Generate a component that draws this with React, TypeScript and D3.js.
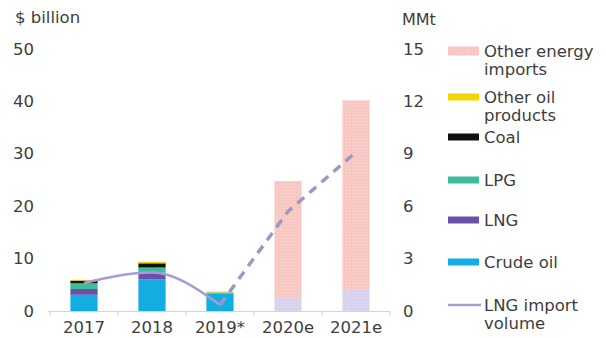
import React from "react";
import * as d3 from "d3";

const categories = ["2017", "2018", "2019*", "2020e", "2021e"];
const crudeOil = [3.1, 6.0, 3.3, 0, 0];
const lng = [1.1, 1.3, 0, 2.5, 4.0];
const lpg = [1.1, 1.0, 0.25, 0, 0];
const coal = [0.5, 0.8, 0, 0, 0];
const otherOil = [0.15, 0.3, 0.15, 0, 0];
const otherEnergy = [0, 0, 0, 22.3, 36.2];
const lngVolume = [1.6, 2.2, 0.35, 5.7, 9.1];
const leftTicks = [0, 10, 20, 30, 40, 50];
const rightTicks = [0, 3, 6, 9, 12, 15];

const W = 606;
const H = 338;
const FONT = "'DejaVu Sans', Verdana, sans-serif";
const TXT = "#3d3d3d";

export default function App() {
  const x = d3.scaleBand<string>().domain(categories).range([50, 390]).paddingInner(0.6).paddingOuter(0.3);
  const yL = d3.scaleLinear().domain([0, 50]).range([311, 49]);
  const yR = d3.scaleLinear().domain([0, 15]).range([311, 49]);

  const seriesDefs = [
    { key: "crude", values: crudeOil, fill: "#14ade2" },
    { key: "lng", values: lng, fill: "#6b50aa" },
    { key: "lpg", values: lpg, fill: "#3dbb9b" },
    { key: "coal", values: coal, fill: "#111111" },
    { key: "otheroil", values: otherOil, fill: "#f4d600" },
    { key: "otherenergy", values: otherEnergy, fill: "url(#pinkDots)" },
  ];
  const rows = categories.map((c, i) => {
    const r: any = { cat: c };
    seriesDefs.forEach((s) => (r[s.key] = s.values[i]));
    return r;
  });
  const stack = d3.stack<any>().keys(seriesDefs.map((s) => s.key));
  const stacked = stack(rows);

  const bw = x.bandwidth();
  const pts = categories.map((c, i) => [x(c)! + bw / 2, yR(lngVolume[i])] as [number, number]);
  const solid = d3.line().curve(d3.curveMonotoneX)(pts.slice(0, 3))!;
  const dashed = d3.line()(pts.slice(2))!;

  const legend = [
    { lines: ["Other energy", "imports"], fill: "url(#pinkDots)", y: 51, type: "rect", h: 9 },
    { lines: ["Other oil", "products"], fill: "#f4d600", y: 97, type: "rect", h: 7 },
    { lines: ["Coal"], fill: "#111111", y: 137, type: "rect", h: 7 },
    { lines: ["LPG"], fill: "#3dbb9b", y: 180, type: "rect", h: 7 },
    { lines: ["LNG"], fill: "#6b50aa", y: 220, type: "rect", h: 7 },
    { lines: ["Crude oil"], fill: "#14ade2", y: 262, type: "rect", h: 7 },
    { lines: ["LNG import", "volume"], fill: "#a99bd6", y: 305, type: "line", h: 0 },
  ];

  const boundaries = [50, ...categories.map((c) => x(c)! + bw / 2 + x.step() / 2)];

  return (
    <svg width={W} height={H} style={{ position: "absolute", left: 0, top: 0, background: "#fff" }} fontFamily={FONT}>
      <defs>
        <pattern id="pinkDots" width="3" height="3" patternUnits="userSpaceOnUse">
          <rect width="3" height="3" fill="#f8c7c1" />
          <rect x="1" y="1" width="1" height="1" fill="#fbdcd8" />
        </pattern>
        <pattern id="lavDots" width="3" height="3" patternUnits="userSpaceOnUse">
          <rect width="3" height="3" fill="#d9d1ee" />
          <rect x="1" y="1" width="1" height="1" fill="#e6e0f4" />
        </pattern>
      </defs>
      <rect width={W} height={H} fill="#fff" />
      {/* axis titles */}
      <text x={15} y={23} fontSize={16.5} fill={TXT}>$ billion</text>
      <text x={402} y={25} fontSize={16} fill={TXT}>MMt</text>
      {leftTicks.map((t) => (
        <text key={"l" + t} x={34} y={yL(t)} fontSize={16.5} fill={TXT} textAnchor="end" dominantBaseline="central">{t}</text>
      ))}
      {rightTicks.map((t) => (
        <text key={"r" + t} x={403} y={yR(t)} fontSize={16.5} fill={TXT} textAnchor="start" dominantBaseline="central">{t}</text>
      ))}
      {/* bars */}
      {stacked.map((layer, li) =>
        layer.map((d, i) => {
          const h = yL(d[0]) - yL(d[1]);
          if (h <= 0) return null;
          let fill = seriesDefs[li].fill;
          if (seriesDefs[li].key === "lng" && i >= 3) fill = "url(#lavDots)";
          return <rect key={li + "-" + i} x={x(categories[i])} y={yL(d[1])} width={bw} height={h} fill={fill} />;
        })
      )}
      {/* baseline */}
      <line x1={48} x2={390} y1={311.5} y2={311.5} stroke="#d4d4d4" strokeWidth={1} />
      {boundaries.map((b, i) => (
        <line key={"t" + i} x1={b} x2={b} y1={311} y2={316} stroke="#d4d4d4" strokeWidth={1} />
      ))}
      {/* lines */}
      <path d={solid} fill="none" stroke="#a99bd6" strokeWidth={2.5} />
      <path d={dashed} fill="none" stroke="#9d97c6" strokeWidth={3.5} strokeDasharray="9,7" />
      {/* category labels */}
      {categories.map((c) => (
        <text key={c} x={x(c)! + bw / 2} y={333} fontSize={16.5} fill={TXT} textAnchor="middle">{c}</text>
      ))}
      {/* legend */}
      {legend.map((l, i) => (
        <g key={"lg" + i}>
          {l.type === "rect" ? (
            <rect x={448} y={l.y - l.h / 2} width={31} height={l.h} fill={l.fill} />
          ) : (
            <line x1={448} x2={481} y1={l.y} y2={l.y} stroke={l.fill} strokeWidth={2.5} />
          )}
          {l.lines.map((t, j) => (
            <text key={j} x={484} y={l.y + j * 18.5} fontSize={16.5} fill={TXT} dominantBaseline="central">{t}</text>
          ))}
        </g>
      ))}
    </svg>
  );
}
